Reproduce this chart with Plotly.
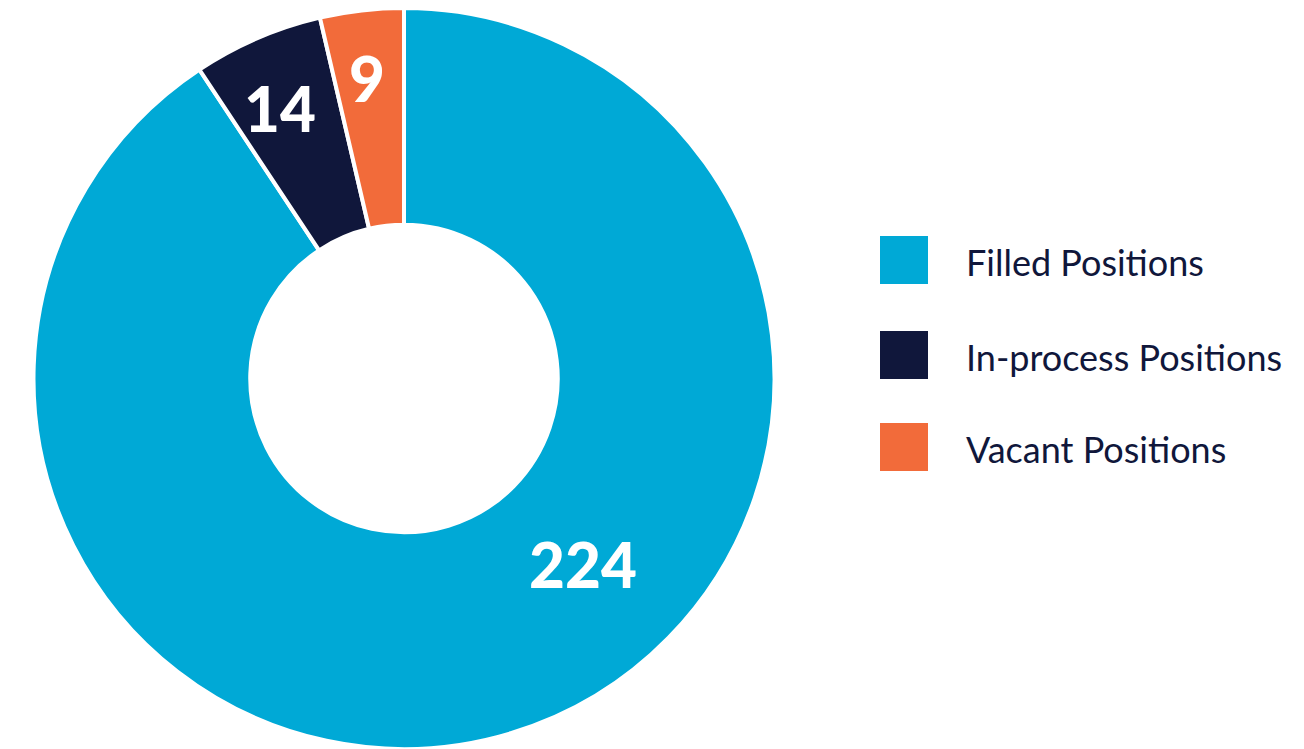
import plotly.graph_objects as go

labels = ["Filled Positions", "In-process Positions", "Vacant Positions"]
values = [224, 14, 9]
colors = ["#00A9D6", "#10173B", "#F26B3A"]
label_pos = [(583, 564), (280, 108), (367, 78)]  # reference-pixel positions of value labels

OFF = 8  # page body margin
W, H = 1304 - OFF, 749 - OFF

def px(x):
    return (x - OFF) / W

def py(y):
    return 1 - (y - OFF) / H

cx, cy, R = 404, 379, 372
fig = go.Figure()
fig.add_trace(go.Pie(
    labels=labels, values=values, sort=False, direction="clockwise", rotation=0,
    hole=0.415, marker=dict(colors=colors, line=dict(color="white", width=4)),
    textinfo="none", showlegend=False, hoverinfo="label+value",
    domain=dict(x=[px(cx - R), px(cx + R)], y=[max(0, py(cy + R)), min(1, py(cy - R))]),
))

for v, (x, y) in zip(values, label_pos):
    fig.add_annotation(x=px(x), y=py(y), xref="paper", yref="paper", text=str(v),
                       xanchor="center", yanchor="middle", showarrow=False,
                       font=dict(family="Lato", size=62, color="white", weight=900))

legend_y = [260, 355, 447]
for lab, col, ly in zip(labels, colors, legend_y):
    fig.add_shape(type="rect", xref="paper", yref="paper",
                  x0=px(880), x1=px(928), y0=py(ly + 24), y1=py(ly - 24),
                  fillcolor=col, line=dict(width=0))
    fig.add_annotation(x=px(964), y=py(ly + 2), xref="paper", yref="paper", text=lab,
                       xanchor="left", yanchor="middle", showarrow=False,
                       font=dict(family="Lato", size=36, color="#10173B"))

fig.update_layout(width=W, height=H, margin=dict(l=0, r=0, t=0, b=0),
                  paper_bgcolor="white", plot_bgcolor="white")
fig.write_html("out.html")
